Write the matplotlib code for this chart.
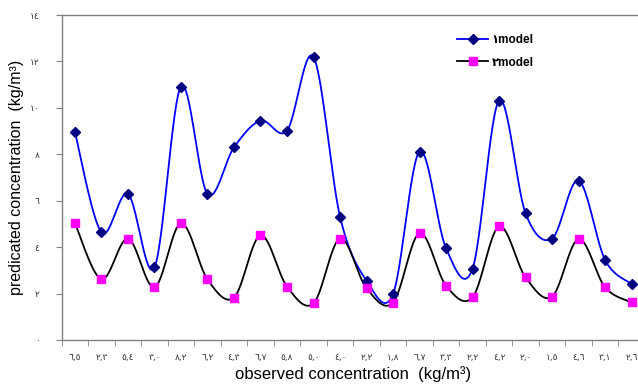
import numpy as np
import matplotlib
matplotlib.use("Agg")
import matplotlib.pyplot as plt
from matplotlib.lines import Line2D

plt.rcParams['font.family'] = ['Liberation Sans', 'DejaVu Sans']

categories = ["٦,٥", "٢,٣", "٥,٤", "٣,٠", "٨,٢", "٦,٢", "٤,٣", "٦,٧", "٥,٨", "٥,٠", "٤,٠",
              "٢,٢", "١,٨", "٦,٧", "٣,٣", "٢,٢", "٤,٢", "٢,٠", "١,٥", "٤,٦", "٣,١", "٢,٦"]
model1 = [8.95, 4.64, 6.29, 3.13, 10.92, 6.29, 8.3, 9.45, 9.02, 12.19, 5.32,
          2.56, 1.98, 8.12, 3.95, 3.07, 10.31, 5.46, 4.37, 6.87, 3.45, 2.41]
model2 = [5.03, 2.61, 4.37, 2.27, 5.03, 2.61, 1.83, 4.51, 2.30, 1.58, 4.37,
          2.23, 1.61, 4.6, 2.34, 1.84, 4.89, 2.7, 1.87, 4.35, 2.27, 1.62]
yticks = [0, 2, 4, 6, 8, 10, 12, 14]
ytick_labels = ["٠", "٢", "٤", "٦", "٨", "١٠", "١٢", "١٤"]
series_names = ["١model", "٢model"]


def smooth(xs, ys, n=30):
    xs = np.asarray(xs, float)
    ys = np.asarray(ys, float)
    P = np.column_stack([xs, ys])
    Pe = np.vstack([P[0], P, P[-1]])
    out = []
    t = np.linspace(0, 1, n)[:, None]
    for i in range(len(P) - 1):
        p0 = Pe[i + 1]
        p3 = Pe[i + 2]
        c1 = p0 + (Pe[i + 2] - Pe[i]) / 6.0
        c2 = p3 - (Pe[i + 3] - Pe[i + 1]) / 6.0
        seg = ((1 - t) ** 3) * p0 + 3 * ((1 - t) ** 2) * t * c1 + 3 * (1 - t) * t ** 2 * c2 + t ** 3 * p3
        out.append(seg if i == 0 else seg[1:])
    pts = np.vstack(out)
    return pts[:, 0], pts[:, 1]


fig = plt.figure(figsize=(6.38, 3.88), dpi=100)
ax = fig.add_axes([0.0967, 0.1237, 0.914, 0.8376])

x = np.arange(len(categories))
sx, sy = smooth(x, model1)
ax.plot(sx, sy, color='#0000FF', lw=1.3, zorder=2)
ax.plot(x, model1, ls='none', marker='D', ms=5.5, color='#000080', zorder=3)
sx2, sy2 = smooth(x, model2)
ax.plot(sx2, sy2, color='#000000', lw=1.3, zorder=2)
ax.plot(x, model2, ls='none', marker='s', ms=5.5, color='#FF00FF', zorder=3)

ax.set_xlim(-0.5, len(categories) - 0.5)
ax.set_ylim(0, 14)
ax.set_yticks(yticks)
ax.set_yticklabels(ytick_labels, fontsize=6.5, color='#333333', family=['DejaVu Sans'])
ax.set_xticks(x)
ax.set_xticklabels(categories, fontsize=6.5, color='#333333', family=['DejaVu Sans'])
ax.set_xticks(np.arange(-0.5, len(categories) + 0.5, 1), minor=True)
ax.tick_params(axis='x', which='major', length=0, pad=9)
ax.tick_params(axis='x', which='minor', length=4, direction='out', color='#808080')
ax.tick_params(axis='y', which='major', length=4, direction='out', color='#808080', pad=12)

for s in ['left', 'bottom', 'top']:
    ax.spines[s].set_color('#808080')
    ax.spines[s].set_linewidth(1.0)
ax.spines['right'].set_visible(False)

ax.set_xlabel("observed concentration  (kg/m³)", fontsize=12, labelpad=3)
ax.set_ylabel("predicated concentration  (kg/m³)", fontsize=11.5, labelpad=4)

handles = [
    Line2D([], [], color='#0000FF', lw=1.3, marker='D', ms=5, mfc='#000080', mec='#000080'),
    Line2D([], [], color='#000000', lw=1.3, marker='s', ms=6, mfc='#FF00FF', mec='#FF00FF'),
]
leg = fig.legend(handles, series_names, loc='upper left', bbox_to_anchor=(0.70, 0.94),
                 frameon=False, handlelength=2.6, handletextpad=0.3, labelspacing=0.9,
                 prop={'weight': 'bold', 'size': 8.5, 'family': ['Liberation Sans', 'DejaVu Sans']})

fig.savefig("out.png", dpi=100)
